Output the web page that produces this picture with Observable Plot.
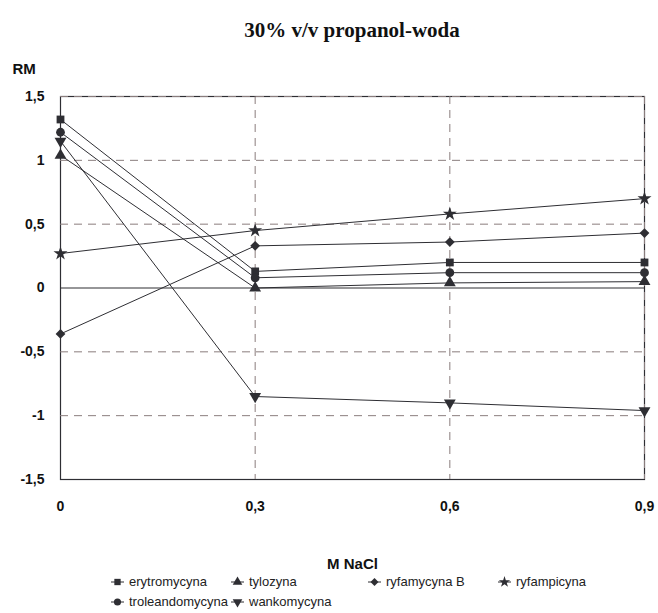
<!DOCTYPE html>
<html>
<head>
<meta charset="utf-8">
<script src="https://cdn.jsdelivr.net/npm/d3@7"></script>
<script src="https://cdn.jsdelivr.net/npm/@observablehq/plot@0.6"></script>
<style>
  body { margin: 0; background: #fff; font-family: "Liberation Sans", Arial, sans-serif; }
  #wrap { width: 658px; position: relative; }
  #title { height: 50px; text-align: center; font-family: "Liberation Serif", "Times New Roman", serif;
           font-weight: bold; font-size: 21px; line-height: 60px; padding-left: 46px; box-sizing: border-box; color: #111; }
  #legend { display: grid; grid-template-columns: 120px 137px 130px auto; row-gap: 3px;
            margin-left: 111px; margin-top: -5px; font-size: 13px; color: #222; }
  .item { display: flex; align-items: center; height: 17px; white-space: nowrap; }
  .item svg { margin-right: 5px; flex: none; }
</style>
</head>
<body>
<div id="wrap">
  <div id="title">30% v/v propanol-woda</div>
  <div id="chart"></div>
  <div id="legend"></div>
</div>
<script>
// NaCl concentrations (M)
const nacl = [0, 0.3, 0.6, 0.9];

// RM values of each antibiotic in 30% v/v propanol-water
const erytromycyna    = [1.32, 0.13, 0.20, 0.20];
const troleandomycyna = [1.22, 0.08, 0.12, 0.12];
const tylozyna        = [1.04, 0.00, 0.04, 0.05];
const wankomycyna     = [1.15, -0.85, -0.90, -0.96];
const ryfamycynaB     = [-0.36, 0.33, 0.36, 0.43];
const ryfampicyna     = [0.27, 0.45, 0.58, 0.70];

const seriesNames = ["erytromycyna", "tylozyna", "ryfamycyna B", "ryfampicyna", "troleandomycyna", "wankomycyna"];
const seriesValues = [erytromycyna, tylozyna, ryfamycynaB, ryfampicyna, troleandomycyna, wankomycyna];
const seriesSymbols = ["square", "triangle", "diamond2", "star", "circle", "triangle"];
const seriesRotate = [0, 0, 0, 0, 0, 180];

const yTicks = [-1.5, -1, -0.5, 0, 0.5, 1, 1.5];
const xTicks = [0, 0.3, 0.6, 0.9];

const rows = seriesNames.flatMap((name, i) =>
  nacl.map((x, j) => ({name, x, y: seriesValues[i][j], symbol: seriesSymbols[i], rotate: seriesRotate[i]})));

const comma = d => String(d).replace(".", ",");
const ink = "#2e2e33";
const gridColor = "#8a7d7d";

const chart = Plot.plot({
  width: 658,
  height: 528,
  marginLeft: 60,
  marginRight: 14,
  marginTop: 46,
  marginBottom: 99,
  style: {fontFamily: "'Liberation Sans', Arial, sans-serif", fontWeight: "bold", color: "#111", background: "transparent"},
  x: {domain: [0, 0.9], label: null},
  y: {domain: [-1.5, 1.5], label: null},
  symbol: {type: "identity"},
  marks: [
    Plot.axisX(xTicks, {tickFormat: comma, tickSize: 0, tickPadding: 22, fontSize: 14, fontWeight: "bold", label: null}),
    Plot.axisY(yTicks, {tickFormat: comma, tickSize: 0, tickPadding: 16, fontSize: 14, fontWeight: "bold", label: null}),
    Plot.frame({stroke: ink, strokeWidth: 1.2}),
    Plot.gridY(yTicks.filter(d => d !== 0 && d !== -1.5), {stroke: gridColor, strokeOpacity: 1, strokeDasharray: "8,6", strokeWidth: 1}),
    Plot.gridX(xTicks.filter(d => d !== 0), {stroke: gridColor, strokeOpacity: 1, strokeDasharray: "8,6", strokeWidth: 1}),
    Plot.ruleY([0], {stroke: ink, strokeWidth: 1.2}),
    Plot.line(rows, {x: "x", y: "y", z: "name", stroke: ink, strokeWidth: 1}),
    Plot.dot(rows, {x: "x", y: "y", symbol: "symbol", rotate: "rotate", fill: ink, stroke: "none", r: 4.4}),
    Plot.text(["RM"], {frameAnchor: "top-left", dx: -48, dy: -33, fontSize: 15, fontWeight: "bold", textAnchor: "start"}),
    Plot.text(["M NaCl"], {frameAnchor: "bottom", dy: 89, fontSize: 15, fontWeight: "bold"})
  ]
});
document.getElementById("chart").appendChild(chart);

// Legend: a short line segment with the series marker, followed by its name
const symMap = {square: d3.symbolSquare, triangle: d3.symbolTriangle, diamond2: d3.symbolDiamond2, star: d3.symbolStar, circle: d3.symbolCircle};
const legend = d3.select("#legend");
seriesNames.forEach((name, i) => {
  const item = legend.append("div").attr("class", "item");
  const svg = item.append("svg").attr("width", 13).attr("height", 12);
  svg.append("line").attr("x1", 0).attr("x2", 13).attr("y1", 6).attr("y2", 6)
    .attr("stroke", ink).attr("stroke-width", 1);
  svg.append("path").attr("d", d3.symbol(symMap[seriesSymbols[i]], 40)())
    .attr("transform", `translate(6.5,6) rotate(${seriesRotate[i]})`).attr("fill", ink);
  item.append("span").text(name);
});
</script>
</body>
</html>
